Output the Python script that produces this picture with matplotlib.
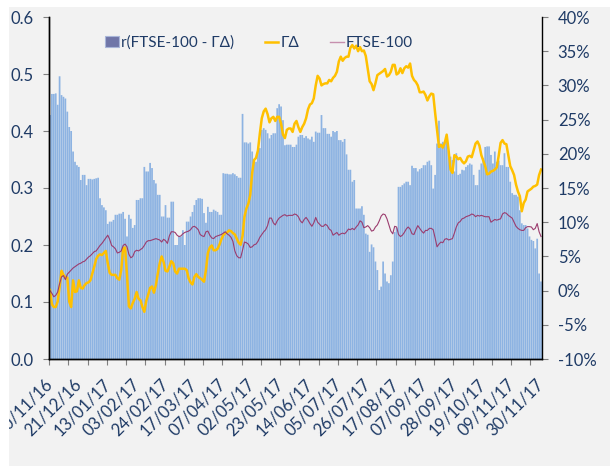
import matplotlib

matplotlib.use("Agg")

import matplotlib.pyplot as plt
import numpy as np
from matplotlib.lines import Line2D
from matplotlib.patches import Patch, Rectangle

plt.rcParams["font.family"] = ["Lato", "DejaVu Sans"]

TXT = "#1F3B66"
BAR_C = "#8DB3E2"
GD_C = "#FFC000"
FTSE_C = "#9B3C6E"
BG = "#F2F2F2"

# etiquetas del eje x (cada 15 sesiones)
date_labels = ["30/11/16", "21/12/16", "13/01/17", "03/02/17", "24/02/17", "17/03/17",
               "07/04/17", "02/05/17", "23/05/17", "14/06/17", "05/07/17", "26/07/17",
               "17/08/17", "07/09/17", "28/09/17", "19/10/17", "09/11/17", "30/11/17"]

# correlación r(FTSE-100 - ΓΔ), eje izquierdo
corr = [
    0.428, 0.465, 0.465, 0.466, 0.446, 0.496, 0.463, 0.460, 0.457, 0.434,
    0.407, 0.400, 0.364, 0.346, 0.340, 0.337, 0.314, 0.323, 0.323, 0.305,
    0.316, 0.316, 0.315, 0.316, 0.317, 0.318, 0.282, 0.270, 0.266, 0.261,
    0.237, 0.241, 0.241, 0.244, 0.253, 0.253, 0.255, 0.255, 0.258, 0.246,
    0.215, 0.253, 0.246, 0.230, 0.235, 0.279, 0.279, 0.282, 0.282, 0.337,
    0.329, 0.329, 0.344, 0.335, 0.314, 0.308, 0.288, 0.288, 0.250, 0.250,
    0.270, 0.248, 0.248, 0.276, 0.276, 0.200, 0.200, 0.215, 0.215, 0.226,
    0.200, 0.241, 0.241, 0.250, 0.258, 0.270, 0.279, 0.282, 0.282, 0.281,
    0.256, 0.239, 0.267, 0.258, 0.258, 0.262, 0.260, 0.258, 0.253, 0.253,
    0.326, 0.325, 0.325, 0.324, 0.324, 0.326, 0.324, 0.321, 0.318, 0.318,
    0.430, 0.380, 0.380, 0.378, 0.380, 0.364, 0.346, 0.346, 0.370, 0.370,
    0.402, 0.405, 0.402, 0.396, 0.387, 0.393, 0.396, 0.396, 0.440, 0.447,
    0.443, 0.419, 0.375, 0.376, 0.376, 0.376, 0.372, 0.372, 0.376, 0.390,
    0.393, 0.393, 0.388, 0.391, 0.387, 0.385, 0.390, 0.381, 0.399, 0.397,
    0.397, 0.428, 0.405, 0.405, 0.395, 0.395, 0.390, 0.400, 0.398, 0.400,
    0.384, 0.384, 0.381, 0.386, 0.359, 0.332, 0.332, 0.311, 0.314, 0.264,
    0.264, 0.264, 0.268, 0.253, 0.220, 0.218, 0.188, 0.201, 0.196, 0.171,
    0.156, 0.121, 0.127, 0.171, 0.150, 0.136, 0.133, 0.147, 0.171, 0.223,
    0.230, 0.302, 0.302, 0.305, 0.308, 0.311, 0.311, 0.305, 0.339, 0.335,
    0.335, 0.329, 0.333, 0.335, 0.340, 0.340, 0.346, 0.348, 0.340, 0.299,
    0.323, 0.378, 0.418, 0.378, 0.381, 0.378, 0.385, 0.364, 0.355, 0.349,
    0.329, 0.361, 0.323, 0.325, 0.332, 0.331, 0.337, 0.340, 0.343, 0.341,
    0.323, 0.305, 0.305, 0.332, 0.343, 0.352, 0.372, 0.373, 0.373, 0.358,
    0.343, 0.364, 0.346, 0.348, 0.340, 0.340, 0.361, 0.337, 0.337, 0.311,
    0.291, 0.288, 0.288, 0.285, 0.261, 0.238, 0.235, 0.235, 0.229, 0.215,
    0.209, 0.207, 0.194, 0.211, 0.150, 0.136,
]

# rentabilidad acumulada ΓΔ (%), eje derecho
gamma_delta = [
    0.1, -2.0, -2.4, -2.4, -1.6, 0.5, 2.9, 2.3, 1.9, 1.9,
    -1.6, -2.4, 1.5, -0.2, -0.1, 1.5, 0.4, 0.3, 0.8, 1.1,
    1.2, 1.5, 2.5, 3.5, 4.6, 5.1, 5.3, 5.2, 5.5, 5.8,
    4.0, 2.6, 2.3, 2.3, 2.3, 1.8, 1.6, 3.0, 6.2, 6.3,
    2.3, -2.3, -2.6, -1.8, -1.2, -0.2, -1.2, -1.4, -2.4, -3.1,
    -1.5, -0.6, 0.4, 0.6, -0.3, 0.8, 2.5, 4.0, 5.0, 4.2,
    2.9, 2.8, 3.5, 4.3, 4.0, 2.8, 2.5, 3.2, 3.2, 3.2,
    3.2, 3.0, 1.8, 1.2, 0.9, 2.0, 2.4, 2.0, 1.8, 1.6,
    1.3, 3.0, 5.5, 6.3, 6.6, 5.9, 5.9, 6.1, 6.7, 7.5,
    8.1, 8.4, 8.5, 8.8, 8.7, 8.4, 8.2, 7.6, 7.0, 6.7,
    8.0, 10.8, 12.0, 12.7, 14.0, 17.2, 19.1, 19.4, 20.5, 23.0,
    25.2, 26.2, 26.6, 25.8, 24.6, 25.2, 25.4, 24.8, 25.4, 25.4,
    24.4, 22.8, 22.3, 23.5, 23.7, 23.7, 23.2, 24.4, 24.8, 23.9,
    23.2, 23.9, 24.4, 25.2, 26.5, 27.2, 27.4, 28.1, 30.0, 31.4,
    31.0, 30.0, 30.2, 30.3, 30.3, 30.8, 30.6, 31.1, 31.4, 32.0,
    33.5, 34.2, 33.6, 34.0, 34.2, 34.2, 35.5, 35.9, 35.4, 35.8,
    35.0, 35.6, 35.0, 35.1, 34.3, 32.5, 30.6, 30.2, 29.3, 30.3,
    31.5, 31.7, 31.9, 32.1, 32.4, 31.3, 31.5, 32.0, 33.0, 33.0,
    31.6, 31.8, 32.5, 31.8, 32.5, 32.8, 32.6, 33.2, 31.4, 30.8,
    30.5, 30.0, 29.0, 29.0, 29.1, 28.6, 27.8, 28.4, 28.8, 28.7,
    26.0, 23.5, 21.0, 21.3, 20.9, 21.6, 22.8, 20.5, 17.7, 17.2,
    19.8, 19.6, 19.2, 19.4, 18.9, 18.6, 18.9, 19.6, 19.7, 19.5,
    20.5, 21.5, 21.8, 21.2, 19.8, 19.0, 18.2, 17.0, 17.1, 17.4,
    17.5, 17.7, 18.0, 19.7, 21.6, 22.0, 21.5, 21.4, 19.8, 18.2,
    17.6, 16.9, 15.5, 14.5, 13.8, 11.6, 12.8, 13.3, 14.5, 14.7,
    14.9, 15.2, 15.3, 15.5, 16.9, 17.7,
]

# rentabilidad acumulada FTSE-100 (%), eje derecho
ftse = [
    0.0, -0.4, -0.9, -0.7, -0.2, 1.0, 2.0, 2.2, 1.6, 2.4,
    2.7, 3.0, 3.3, 3.5, 3.7, 3.9, 4.0, 4.2, 4.3, 4.6,
    4.9, 5.1, 5.4, 5.7, 5.8, 6.2, 6.6, 6.9, 7.3, 7.7,
    8.1, 7.5, 6.6, 6.4, 6.1, 5.5, 5.6, 5.8, 6.6, 6.8,
    6.4, 5.3, 4.8, 5.0, 5.7, 5.9, 5.8, 6.0, 6.2, 6.6,
    7.1, 7.3, 7.3, 7.4, 7.5, 7.6, 7.5, 7.4, 7.1, 7.5,
    7.3, 6.9, 8.0, 8.6, 8.6, 8.5, 8.1, 7.9, 8.0, 8.3,
    8.5, 8.6, 8.7, 8.9, 9.3, 9.4, 9.2, 8.9, 8.2, 8.0,
    7.9, 8.6, 8.7, 8.1, 7.7, 7.6, 7.9, 8.0, 8.1, 8.2,
    8.4, 8.6, 8.3, 8.1, 7.8, 7.2, 5.8, 5.1, 4.8, 4.8,
    5.9, 7.1, 7.0, 6.8, 6.3, 6.4, 6.7, 6.8, 7.2, 7.8,
    8.2, 8.6, 8.9, 9.5, 10.6, 10.6, 9.9, 9.6, 10.2, 10.6,
    10.8, 11.0, 11.1, 10.9, 11.0, 11.0, 11.0, 11.2, 11.1, 10.8,
    10.2, 9.9, 10.4, 10.7, 10.3, 9.8, 9.4, 9.9, 10.7, 10.0,
    9.7, 9.4, 9.4, 9.7, 9.5, 9.0, 8.8, 8.1, 8.3, 8.5,
    8.1, 8.3, 8.4, 8.3, 8.6, 9.0, 8.9, 9.1, 8.9, 9.3,
    9.6, 10.2, 10.0, 9.2, 9.3, 9.5, 9.2, 8.7, 8.8, 9.3,
    9.6, 10.2, 10.9, 11.2, 11.1, 10.5, 9.6, 8.7, 8.3, 9.4,
    9.3, 8.2, 7.9, 8.1, 8.5, 9.0, 9.3, 9.0, 8.3, 8.2,
    8.9, 9.5, 9.1, 8.7, 8.4, 8.8, 8.8, 9.1, 9.1, 8.9,
    7.7, 6.4, 6.8, 7.1, 7.0, 7.5, 7.6, 7.4, 7.5, 7.6,
    8.4, 9.3, 9.9, 10.1, 10.5, 10.6, 10.8, 10.9, 11.0, 11.2,
    11.1, 10.8, 11.0, 10.9, 11.0, 10.9, 10.8, 10.8, 10.8, 10.0,
    10.2, 10.4, 10.3, 10.4, 10.5, 11.2, 11.4, 11.3, 11.0, 10.8,
    10.6, 10.0, 9.4, 9.1, 8.9, 8.8, 8.8, 9.2, 9.35, 9.35,
    9.3, 8.9, 9.1, 9.8, 8.6, 7.9,
]

left_ticks = [0.0, 0.1, 0.2, 0.3, 0.4, 0.5, 0.6]
right_ticks = [-10, -5, 0, 5, 10, 15, 20, 25, 30, 35, 40]

n = len(corr)
x = np.arange(n)

fig = plt.figure(figsize=(6.1, 4.66), dpi=100, facecolor=BG)
ax = fig.add_axes([49 / 610, 107 / 466, 493 / 610, 342 / 466])
ax.set_facecolor(BG)
ax.bar(x, corr, width=0.9, color=BAR_C, linewidth=0, snap=False)
ax.set_xlim(-0.5, n - 0.5)
ax.set_ylim(left_ticks[0], left_ticks[-1])
ax.set_yticks(left_ticks)
ax.set_yticklabels([f"{v:.1f}" for v in left_ticks])

ax2 = ax.twinx()
ax2.plot(x, gamma_delta, color=GD_C, lw=1.8, solid_joinstyle="round")
ax2.plot(x, ftse, color=FTSE_C, lw=0.8)
ax2.set_ylim(right_ticks[0], right_ticks[-1])
ax2.set_yticks(right_ticks)
ax2.set_yticklabels([f"{v}%" for v in right_ticks])

# etiquetas en el centro de la categoría, marcas cada 10 sesiones
ax.set_xticks(x[::15])
ax.set_xticklabels(date_labels, rotation=45, ha="right", va="center", rotation_mode="anchor")
ax.set_xticks(np.arange(0, n, 10) - 0.5, minor=True)
ax.tick_params(axis="x", which="major", length=0, pad=16, labelsize=12, labelcolor=TXT)
ax.tick_params(axis="x", which="minor", length=4.3, color="#7F7F7F", width=0.8)
ax.tick_params(axis="y", length=4.3, color="#7F7F7F", width=0.8, pad=7,
               labelsize=12, labelcolor=TXT)
ax2.tick_params(axis="y", length=4.3, color="#7F7F7F", width=0.8, pad=7,
                labelsize=12, labelcolor=TXT)

for a in (ax, ax2):
    a.spines["top"].set_visible(False)
    for side in ("left", "bottom", "right"):
        a.spines[side].set_color("black")
        a.spines[side].set_linewidth(1.0)
ax.spines["right"].set_visible(False)

handles = [
    Patch(facecolor="#7076A8", edgecolor="#A9B6D9", linewidth=0.8),
    Line2D([], [], color=GD_C, lw=1.8),
    Line2D([], [], color="#C68FAE", lw=1.0),
]
labels = ["r(FTSE-100 - ΓΔ)", "ΓΔ", "FTSE-100"]
leg = ax2.legend(handles, labels, loc="center left",
                 bbox_to_anchor=(105 / 610, 1 - 43 / 466), bbox_transform=fig.transFigure,
                 ncol=3, frameon=False, fontsize=11, handlelength=0.9,
                 handletextpad=0.15, columnspacing=2.0, borderpad=0, borderaxespad=0)
for t in leg.get_texts():
    t.set_color(TXT)

# recorte blanco arriba e izquierda, como en la captura original
fig.add_artist(Rectangle((0, 0), 9 / 610, 1, transform=fig.transFigure,
                         facecolor="white", edgecolor="none", zorder=10))
fig.add_artist(Rectangle((0, 1 - 7 / 466), 1, 7 / 466, transform=fig.transFigure,
                         facecolor="white", edgecolor="none", zorder=10))

fig.savefig("out.png", dpi=100, facecolor=fig.get_facecolor())
